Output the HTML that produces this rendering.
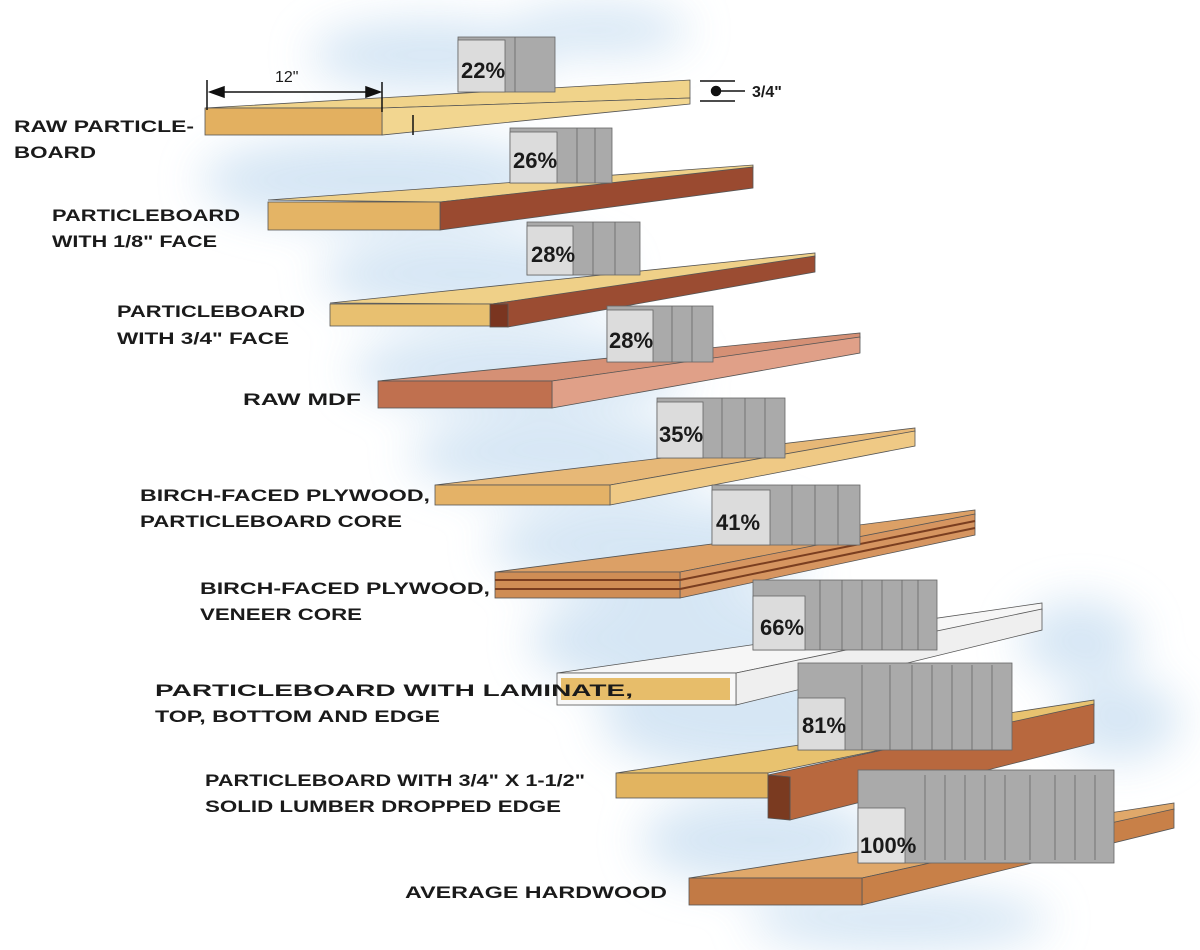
<!DOCTYPE html>
<html><head><meta charset="utf-8"><style>
html,body{margin:0;padding:0;background:#fff;width:1200px;height:950px;overflow:hidden}
svg text{font-family:"Liberation Sans",sans-serif;font-weight:bold;font-size:17px;fill:#1a1a1a}
</style></head><body>
<svg width="1200" height="950" viewBox="0 0 1200 950" xmlns="http://www.w3.org/2000/svg">
<defs>
<filter id="bl" x="-50%" y="-50%" width="200%" height="200%"><feGaussianBlur stdDeviation="22"/></filter>
</defs>
<g filter="url(#bl)" fill="#cfe2f3" opacity="0.85">
<ellipse cx="430" cy="55" rx="120" ry="35"/>
<ellipse cx="600" cy="30" rx="90" ry="25"/>
<ellipse cx="380" cy="180" rx="180" ry="45"/>
<ellipse cx="470" cy="275" rx="150" ry="40"/>
<ellipse cx="520" cy="370" rx="170" ry="40"/>
<ellipse cx="560" cy="455" rx="150" ry="40"/>
<ellipse cx="650" cy="545" rx="160" ry="45"/>
<ellipse cx="680" cy="640" rx="150" ry="55"/>
<ellipse cx="1080" cy="640" rx="60" ry="40"/>
<ellipse cx="760" cy="720" rx="160" ry="55"/>
<ellipse cx="760" cy="840" rx="120" ry="45"/>
<ellipse cx="1120" cy="720" rx="60" ry="40"/>
<ellipse cx="900" cy="920" rx="150" ry="30"/>
</g>
<g stroke="#555" stroke-width="0.8">
<!-- Board 1 -->
<polygon points="205,108 382,108 690,98 690,80" fill="#f0d38a"/>
<polygon points="382,108 690,98 690,104 382,135" fill="#f2d690"/>
<rect x="205" y="108" width="177" height="27" fill="#e3b060"/>
<!-- Board 2 -->
<polygon points="268,200 440,202 753,168 753,165" fill="#efd088"/>
<polygon points="440,202 753,167 753,188 440,230" fill="#9a4a30"/>
<rect x="268" y="202" width="172" height="28" fill="#e4b465"/>
<!-- Board 3 -->
<polygon points="330,303 492,304 815,258 815,253" fill="#efd088"/>
<polygon points="492,304 815,256 815,272 508,327" fill="#9b4c32"/>
<rect x="330" y="304" width="162" height="22" fill="#e8c070"/>
<rect x="490" y="304" width="18" height="23" fill="#7a3520"/>
<!-- Board 4 MDF -->
<polygon points="378,381 552,381 860,338 860,333" fill="#d59075"/>
<polygon points="552,381 860,337 860,353 552,408" fill="#e0a088"/>
<rect x="378" y="381" width="174" height="27" fill="#c0704f"/>
<!-- Board 5 -->
<polygon points="435,485 610,485 915,432 915,428" fill="#e7b877"/>
<polygon points="610,485 915,431 915,446 610,505" fill="#efc985"/>
<rect x="435" y="485" width="175" height="20" fill="#e4b267"/>
<!-- Board 6 -->
<polygon points="495,572 680,572 975,515 975,510" fill="#dca066"/>
<polygon points="680,572 975,514 975,535 680,598" fill="#d69560"/>
<rect x="495" y="572" width="185" height="26" fill="#cf8d55"/>
<line x1="495" y1="580" x2="680" y2="580" stroke="#7a3e20" stroke-width="2"/>
<line x1="495" y1="589" x2="680" y2="589" stroke="#7a3e20" stroke-width="2"/>
<line x1="680" y1="580" x2="975" y2="521" stroke="#7a3e20" stroke-width="2"/>
<line x1="680" y1="589" x2="975" y2="528" stroke="#7a3e20" stroke-width="2"/>
<!-- Board 7 laminate -->
<polygon points="557,673 736,673 1042,610 1042,603" fill="#f6f6f6"/>
<polygon points="736,673 1042,609 1042,630 736,705" fill="#efefef"/>
<rect x="557" y="673" width="179" height="32" fill="#f8f8f8"/>
<rect x="561" y="678" width="169" height="22" fill="#e7bd6a" stroke="none"/>
<!-- Board 8 -->
<polygon points="616,773 768,773 1094,706 1094,700" fill="#e8c26f"/>
<rect x="616" y="773" width="152" height="25" fill="#e2b460"/>
<polygon points="768,775 1094,704 1094,743 790,820 790,777" fill="#b8683e"/>
<polygon points="768,775 790,777 790,820 768,818" fill="#7a3a20"/>
<!-- Board 9 hardwood -->
<polygon points="689,878 862,878 1174,810 1174,803" fill="#e0a86a"/>
<polygon points="862,878 1174,809 1174,828 862,905" fill="#c88048"/>
<rect x="689" y="878" width="173" height="27" fill="#c27a45"/>
</g>
<!-- boxes -->
<g stroke="#666" stroke-width="0.8">
<rect x="458" y="37" width="97" height="55" fill="#aaa"/><rect x="458" y="40" width="47" height="52" fill="#dcdcdc"/><line x1="515" y1="37" x2="515" y2="92"/>
<rect x="510" y="128" width="102" height="55" fill="#aaa"/><rect x="510" y="132" width="47" height="51" fill="#dcdcdc"/><line x1="577" y1="128" x2="577" y2="183"/><line x1="595" y1="128" x2="595" y2="183"/>
<rect x="527" y="222" width="113" height="53" fill="#aaa"/><rect x="527" y="226" width="46" height="49" fill="#dcdcdc"/><line x1="593" y1="222" x2="593" y2="275"/><line x1="615" y1="222" x2="615" y2="275"/>
<rect x="607" y="306" width="106" height="56" fill="#aaa"/><rect x="607" y="310" width="46" height="52" fill="#dcdcdc"/><line x1="672" y1="306" x2="672" y2="362"/><line x1="692" y1="306" x2="692" y2="362"/>
<rect x="657" y="398" width="128" height="60" fill="#aaa"/><rect x="657" y="402" width="46" height="56" fill="#dcdcdc"/><line x1="722" y1="398" x2="722" y2="458"/><line x1="745" y1="398" x2="745" y2="458"/><line x1="765" y1="398" x2="765" y2="458"/>
<rect x="712" y="485" width="148" height="60" fill="#aaa"/><rect x="712" y="490" width="58" height="55" fill="#dcdcdc"/><line x1="792" y1="485" x2="792" y2="545"/><line x1="815" y1="485" x2="815" y2="545"/><line x1="838" y1="485" x2="838" y2="545"/>
<rect x="753" y="580" width="184" height="70" fill="#aaa"/><rect x="753" y="596" width="52" height="54" fill="#dcdcdc"/><line x1="820" y1="580" x2="820" y2="650"/><line x1="842" y1="580" x2="842" y2="650"/><line x1="862" y1="580" x2="862" y2="650"/><line x1="882" y1="580" x2="882" y2="650"/><line x1="902" y1="580" x2="902" y2="650"/><line x1="918" y1="580" x2="918" y2="650"/>
<rect x="798" y="663" width="214" height="87" fill="#aaa"/><rect x="798" y="698" width="47" height="52" fill="#dcdcdc"/><line x1="862" y1="665" x2="862" y2="750"/><line x1="890" y1="665" x2="890" y2="750"/><line x1="912" y1="665" x2="912" y2="750"/><line x1="932" y1="665" x2="932" y2="750"/><line x1="952" y1="665" x2="952" y2="750"/><line x1="972" y1="665" x2="972" y2="750"/><line x1="992" y1="665" x2="992" y2="750"/>
<rect x="858" y="770" width="256" height="93" fill="#aaa"/><rect x="858" y="808" width="47" height="55" fill="#e2e2e2"/><line x1="925" y1="775" x2="925" y2="860"/><line x1="945" y1="775" x2="945" y2="860"/><line x1="965" y1="775" x2="965" y2="860"/><line x1="985" y1="775" x2="985" y2="860"/><line x1="1005" y1="775" x2="1005" y2="860"/><line x1="1030" y1="775" x2="1030" y2="860"/><line x1="1055" y1="775" x2="1055" y2="860"/><line x1="1075" y1="775" x2="1075" y2="860"/><line x1="1095" y1="775" x2="1095" y2="860"/>
</g>
<g>
<text x="461" y="78" style="font-size:22px">22%</text>
<text x="513" y="168" style="font-size:22px">26%</text>
<text x="531" y="262" style="font-size:22px">28%</text>
<text x="609" y="348" style="font-size:22px">28%</text>
<text x="659" y="442" style="font-size:22px">35%</text>
<text x="716" y="530" style="font-size:22px">41%</text>
<text x="760" y="635" style="font-size:22px">66%</text>
<text x="802" y="733" style="font-size:22px">81%</text>
<text x="860" y="853" style="font-size:22px">100%</text>
</g>
<g stroke="#111" stroke-width="1.5" fill="#111">
<line x1="207" y1="80" x2="207" y2="110"/><line x1="382" y1="82" x2="382" y2="112"/>
<line x1="212" y1="92" x2="377" y2="92"/>
<polygon points="210,92 224,87 224,97"/><polygon points="380,92 366,87 366,97"/>
<line x1="413" y1="115" x2="413" y2="135"/>
<line x1="700" y1="81" x2="735" y2="81"/><line x1="700" y1="101" x2="735" y2="101"/>
<circle cx="716" cy="91" r="4.5"/><line x1="716" y1="91" x2="745" y2="91"/>
</g>
<text x="275" y="82" style="font-size:16px;font-weight:normal">12"</text>
<text x="752" y="97" style="font-size:16px">3/4"</text>
<text x="14" y="132" textLength="180" lengthAdjust="spacingAndGlyphs">RAW PARTICLE-</text>
<text x="14" y="158" textLength="82" lengthAdjust="spacingAndGlyphs">BOARD</text>
<text x="52" y="221" textLength="188" lengthAdjust="spacingAndGlyphs">PARTICLEBOARD</text>
<text x="52" y="247" textLength="165" lengthAdjust="spacingAndGlyphs">WITH 1/8" FACE</text>
<text x="117" y="317" textLength="188" lengthAdjust="spacingAndGlyphs">PARTICLEBOARD</text>
<text x="117" y="344" textLength="172" lengthAdjust="spacingAndGlyphs">WITH 3/4" FACE</text>
<text x="243" y="405" textLength="118" lengthAdjust="spacingAndGlyphs">RAW MDF</text>
<text x="140" y="501" textLength="290" lengthAdjust="spacingAndGlyphs">BIRCH-FACED PLYWOOD,</text>
<text x="140" y="527" textLength="262" lengthAdjust="spacingAndGlyphs">PARTICLEBOARD CORE</text>
<text x="200" y="594" textLength="290" lengthAdjust="spacingAndGlyphs">BIRCH-FACED PLYWOOD,</text>
<text x="200" y="620" textLength="162" lengthAdjust="spacingAndGlyphs">VENEER CORE</text>
<text x="155" y="696" textLength="478" lengthAdjust="spacingAndGlyphs">PARTICLEBOARD WITH LAMINATE,</text>
<text x="155" y="722" textLength="285" lengthAdjust="spacingAndGlyphs">TOP, BOTTOM AND EDGE</text>
<text x="205" y="786" textLength="380" lengthAdjust="spacingAndGlyphs">PARTICLEBOARD WITH 3/4" X 1-1/2"</text>
<text x="205" y="812" textLength="356" lengthAdjust="spacingAndGlyphs">SOLID LUMBER DROPPED EDGE</text>
<text x="405" y="898" textLength="262" lengthAdjust="spacingAndGlyphs">AVERAGE HARDWOOD</text>
</svg>
</body></html>
